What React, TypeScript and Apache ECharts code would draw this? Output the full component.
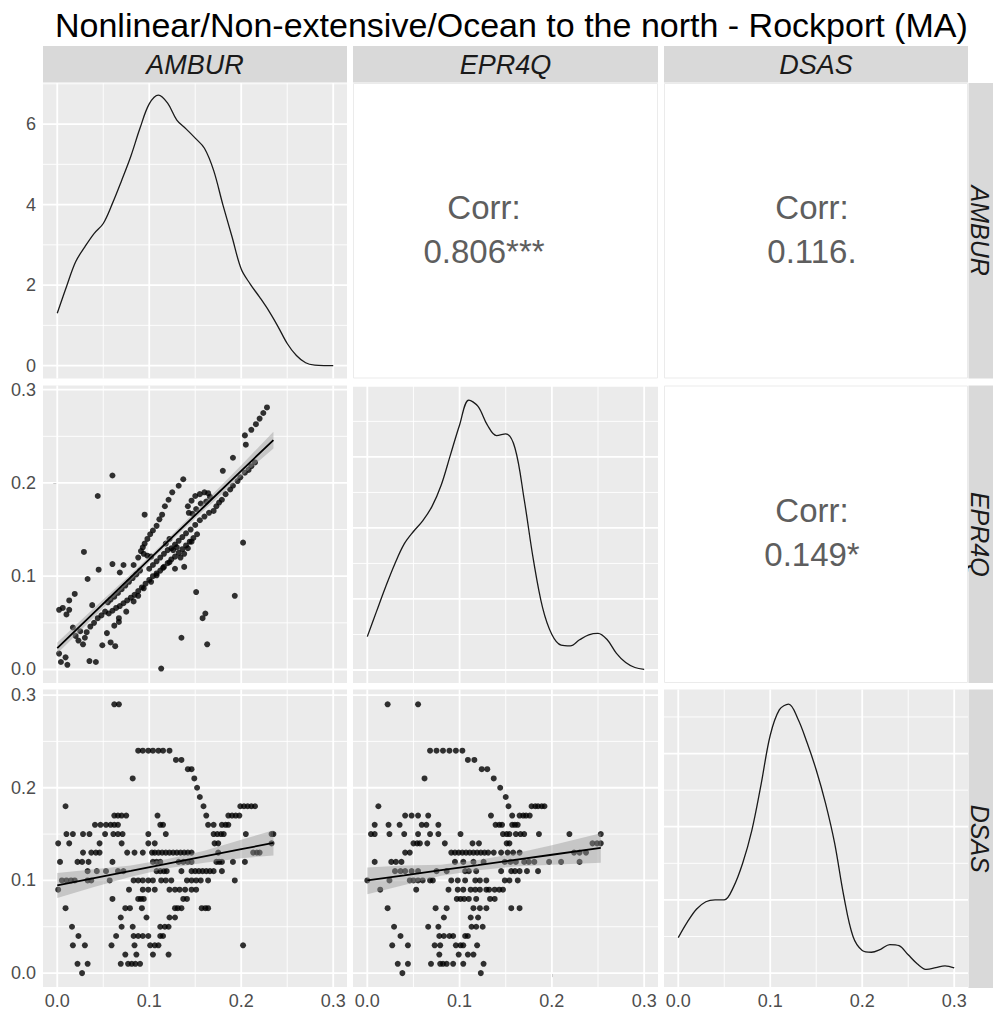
import React, { useEffect, useRef } from "react";
import * as echarts from "echarts";

// ---------------- data ----------------
const varNames = ["AMBUR", "EPR4Q", "DSAS"];
const titleText = "Nonlinear/Non-extensive/Ocean to the north - Rockport (MA)";
const corrAmburEpr4q = "0.806***";
const corrAmburDsas = "0.116.";
const corrEpr4qDsas = "0.149*";

const xTickValues = [0, 0.1, 0.2, 0.3];
const xMinorValues = [0.05, 0.15, 0.25];
const yTickValues = [0, 0.1, 0.2, 0.3];
const yMinorValues = [0.05, 0.15, 0.25];
const densTickValues = [0, 2, 4, 6];
const densMinorValues = [1, 3, 5, 7];
const densTickValuesEpr = [0, 2, 4, 6, 8];

const densityX = [0, 0.01, 0.02, 0.03, 0.04, 0.05, 0.06, 0.07, 0.08, 0.09, 0.1, 0.11, 0.12, 0.13, 0.14, 0.15, 0.16, 0.17, 0.18, 0.19, 0.2, 0.21, 0.22, 0.23, 0.24, 0.25, 0.26, 0.27, 0.28, 0.29, 0.3];
const amburDensity = [1.3, 1.96, 2.58, 2.95, 3.28, 3.53, 4.03, 4.6, 5.2, 5.9, 6.5, 6.72, 6.52, 6.1, 5.88, 5.65, 5.4, 4.85, 4.0, 3.2, 2.4, 2.02, 1.7, 1.36, 0.97, 0.55, 0.25, 0.07, 0.01, 0.0, 0.0];
const epr4qDensity = [0.94, 1.65, 2.35, 3.0, 3.55, 3.9, 4.2, 4.6, 5.2, 6.05, 6.9, 7.6, 7.42, 6.9, 6.6, 6.65, 6.25, 4.8, 3.1, 1.75, 1.0, 0.7, 0.68, 0.85, 0.99, 1.03, 0.85, 0.47, 0.21, 0.07, 0.02];
const dsasDensity = [0.97, 1.4, 1.75, 1.95, 2.0, 2.0, 2.35, 3.0, 3.9, 5.15, 6.5, 7.2, 7.35, 6.95, 6.3, 5.55, 4.65, 3.55, 2.1, 1.0, 0.62, 0.57, 0.65, 0.78, 0.75, 0.5, 0.25, 0.1, 0.15, 0.2, 0.14];

const amburEpr4qPoints = [
  [0.002, 0.064], [0.006, 0.066], [0.010, 0.059], [0.013, 0.064], [0.013, 0.074], [0.019, 0.081],
  [0.002, 0.017], [0.004, 0.008], [0.009, 0.013], [0.011, 0.005],
  [0.017, 0.045], [0.020, 0.036], [0.023, 0.031], [0.025, 0.041], [0.028, 0.027], [0.030, 0.034], [0.032, 0.040],
  [0.029, 0.126], [0.033, 0.097], [0.038, 0.069], [0.035, 0.009], [0.042, 0.008],
  [0.045, 0.107], [0.044, 0.186], [0.049, 0.026],
  [0.036, 0.046], [0.040, 0.050], [0.044, 0.055], [0.048, 0.058], [0.052, 0.062],
  [0.055, 0.072], [0.058, 0.075], [0.062, 0.078], [0.066, 0.082], [0.070, 0.086], [0.074, 0.090], [0.078, 0.094], [0.082, 0.098], [0.086, 0.102], [0.090, 0.106],
  [0.056, 0.060], [0.060, 0.063], [0.064, 0.066], [0.068, 0.068], [0.072, 0.071], [0.076, 0.074], [0.080, 0.077], [0.084, 0.080], [0.088, 0.084], [0.092, 0.088], [0.096, 0.092], [0.100, 0.096], [0.104, 0.100], [0.108, 0.103], [0.112, 0.106], [0.116, 0.110], [0.120, 0.114], [0.124, 0.118], [0.128, 0.121], [0.132, 0.125], [0.136, 0.129], [0.140, 0.133], [0.144, 0.137], [0.148, 0.141], [0.152, 0.145],
  [0.054, 0.039], [0.058, 0.029], [0.063, 0.025], [0.062, 0.047], [0.067, 0.051], [0.067, 0.055], [0.075, 0.062],
  [0.060, 0.208], [0.060, 0.113], [0.068, 0.104], [0.072, 0.112], [0.083, 0.112], [0.088, 0.120],
  [0.095, 0.166], [0.113, 0.001], [0.135, 0.034], [0.151, 0.083], [0.158, 0.055], [0.161, 0.060], [0.163, 0.027], [0.193, 0.079], [0.202, 0.136], [0.191, 0.227], [0.180, 0.213],
  [0.205, 0.241], [0.204, 0.251], [0.211, 0.257], [0.216, 0.263], [0.220, 0.269], [0.224, 0.275], [0.228, 0.281],
  [0.137, 0.204], [0.132, 0.197], [0.125, 0.190], [0.121, 0.182], [0.117, 0.175], [0.114, 0.166], [0.111, 0.161], [0.108, 0.154],
  [0.104, 0.149], [0.101, 0.145], [0.098, 0.140], [0.095, 0.135], [0.093, 0.131], [0.091, 0.127], [0.094, 0.124], [0.098, 0.122], [0.102, 0.121],
  [0.142, 0.175], [0.143, 0.168], [0.146, 0.181], [0.150, 0.186], [0.155, 0.188], [0.160, 0.190], [0.164, 0.189], [0.166, 0.185], [0.162, 0.180], [0.156, 0.178], [0.151, 0.172], [0.147, 0.167],
  [0.170, 0.170], [0.173, 0.175], [0.176, 0.179], [0.179, 0.182], [0.183, 0.188], [0.188, 0.193], [0.191, 0.197], [0.196, 0.202], [0.199, 0.206], [0.204, 0.211], [0.208, 0.214], [0.211, 0.218], [0.215, 0.222],
  [0.100, 0.108], [0.104, 0.112], [0.108, 0.116], [0.112, 0.120], [0.116, 0.124], [0.120, 0.128], [0.124, 0.130], [0.128, 0.134], [0.132, 0.138], [0.136, 0.142], [0.140, 0.146], [0.145, 0.150], [0.150, 0.155], [0.155, 0.160], [0.160, 0.164], [0.165, 0.168],
  [0.118, 0.135], [0.122, 0.140], [0.126, 0.128], [0.130, 0.131], [0.134, 0.120], [0.138, 0.124], [0.142, 0.130], [0.146, 0.137], [0.128, 0.108], [0.138, 0.110],
  [0.083, 0.073], [0.088, 0.079], [0.094, 0.087], [0.102, 0.094], [0.108, 0.101], [0.115, 0.109], [0.122, 0.115],
];

const amburDsasPoints = [
  [0.062, 0.29], [0.067, 0.29],
  [0.088, 0.24], [0.093, 0.24], [0.099, 0.24], [0.104, 0.24], [0.110, 0.24], [0.115, 0.24], [0.122, 0.24],
  [0.129, 0.23], [0.135, 0.23],
  [0.142, 0.22], [0.146, 0.22],
  [0.082, 0.21], [0.149, 0.21],
  [0.152, 0.20],
  [0.155, 0.19],
  [0.009, 0.18], [0.159, 0.18], [0.199, 0.18], [0.203, 0.18], [0.207, 0.18], [0.211, 0.18], [0.215, 0.18],
  [0.062, 0.17], [0.066, 0.17], [0.070, 0.17], [0.075, 0.17], [0.109, 0.17], [0.162, 0.17], [0.186, 0.17], [0.190, 0.17], [0.194, 0.17], [0.198, 0.17],
  [0.041, 0.16], [0.047, 0.16], [0.053, 0.16], [0.058, 0.16], [0.062, 0.16], [0.066, 0.16], [0.112, 0.16], [0.115, 0.16], [0.164, 0.16], [0.170, 0.16], [0.179, 0.16], [0.183, 0.16], [0.186, 0.16],
  [0.010, 0.15], [0.017, 0.15], [0.028, 0.15], [0.035, 0.15], [0.052, 0.15], [0.061, 0.15], [0.066, 0.15], [0.071, 0.15], [0.099, 0.15], [0.118, 0.15], [0.170, 0.15], [0.174, 0.15], [0.178, 0.15], [0.181, 0.15], [0.205, 0.15], [0.233, 0.15], [0.235, 0.15],
  [0.001, 0.14], [0.013, 0.14], [0.046, 0.14], [0.070, 0.14], [0.099, 0.14], [0.106, 0.14], [0.171, 0.14], [0.175, 0.14], [0.233, 0.14],
  [0.028, 0.13], [0.037, 0.13], [0.042, 0.13], [0.046, 0.13], [0.076, 0.13], [0.084, 0.13], [0.093, 0.13], [0.103, 0.13], [0.106, 0.13], [0.110, 0.13], [0.114, 0.13], [0.118, 0.13], [0.122, 0.13], [0.126, 0.13], [0.130, 0.13], [0.134, 0.13], [0.138, 0.13], [0.142, 0.13], [0.146, 0.13], [0.175, 0.13], [0.213, 0.13], [0.217, 0.13], [0.220, 0.13],
  [0.003, 0.12], [0.022, 0.12], [0.027, 0.12], [0.034, 0.12], [0.060, 0.12], [0.104, 0.12], [0.108, 0.12], [0.112, 0.12], [0.132, 0.12], [0.137, 0.12], [0.142, 0.12], [0.146, 0.12], [0.173, 0.12], [0.176, 0.12], [0.179, 0.12], [0.191, 0.12], [0.204, 0.12],
  [0.033, 0.11], [0.043, 0.11], [0.053, 0.11], [0.066, 0.11], [0.072, 0.11], [0.108, 0.11], [0.112, 0.11], [0.116, 0.11], [0.119, 0.11], [0.135, 0.11], [0.146, 0.11], [0.150, 0.11], [0.154, 0.11], [0.158, 0.11], [0.162, 0.11], [0.166, 0.11], [0.170, 0.11], [0.179, 0.11],
  [0.005, 0.10], [0.010, 0.10], [0.015, 0.10], [0.019, 0.10], [0.033, 0.10], [0.037, 0.10], [0.057, 0.10], [0.083, 0.10], [0.088, 0.10], [0.093, 0.10], [0.099, 0.10], [0.104, 0.10], [0.113, 0.10], [0.118, 0.10], [0.124, 0.10], [0.141, 0.10], [0.146, 0.10], [0.151, 0.10], [0.156, 0.10], [0.164, 0.10], [0.193, 0.10],
  [0.001, 0.09], [0.078, 0.09], [0.093, 0.09], [0.099, 0.09], [0.106, 0.09], [0.122, 0.09], [0.128, 0.09], [0.133, 0.09], [0.139, 0.09], [0.146, 0.09], [0.151, 0.09],
  [0.060, 0.08], [0.088, 0.08], [0.091, 0.08], [0.094, 0.08], [0.137, 0.08], [0.141, 0.08],
  [0.009, 0.07], [0.074, 0.07], [0.079, 0.07], [0.092, 0.07], [0.128, 0.07], [0.131, 0.07], [0.135, 0.07], [0.157, 0.07], [0.161, 0.07], [0.164, 0.07],
  [0.069, 0.06], [0.097, 0.06], [0.122, 0.06], [0.128, 0.06],
  [0.016, 0.05], [0.070, 0.05], [0.082, 0.05], [0.112, 0.05], [0.117, 0.05], [0.121, 0.05],
  [0.023, 0.04], [0.064, 0.04], [0.083, 0.04], [0.088, 0.04], [0.093, 0.04], [0.099, 0.04], [0.112, 0.04], [0.115, 0.04],
  [0.017, 0.03], [0.030, 0.03], [0.059, 0.03], [0.084, 0.03], [0.101, 0.03], [0.106, 0.03], [0.110, 0.03], [0.202, 0.03],
  [0.074, 0.02], [0.086, 0.02], [0.104, 0.02], [0.121, 0.02],
  [0.022, 0.01], [0.033, 0.01], [0.069, 0.01], [0.077, 0.01], [0.081, 0.01], [0.085, 0.01], [0.090, 0.01],
  [0.027, 0.00],
];

const epr4qDsasPoints = [
  [0.022, 0.29], [0.055, 0.29],
  [0.068, 0.24], [0.075, 0.24], [0.082, 0.24], [0.089, 0.24], [0.096, 0.24], [0.103, 0.24],
  [0.109, 0.23], [0.116, 0.23],
  [0.124, 0.22], [0.130, 0.22],
  [0.062, 0.21], [0.137, 0.21],
  [0.144, 0.20],
  [0.150, 0.19],
  [0.012, 0.18], [0.153, 0.18], [0.178, 0.18], [0.182, 0.18], [0.185, 0.18], [0.189, 0.18], [0.192, 0.18],
  [0.041, 0.17], [0.048, 0.17], [0.055, 0.17], [0.066, 0.17], [0.134, 0.17], [0.157, 0.17], [0.165, 0.17], [0.169, 0.17], [0.172, 0.17], [0.176, 0.17],
  [0.008, 0.16], [0.023, 0.16], [0.035, 0.16], [0.059, 0.16], [0.064, 0.16], [0.077, 0.16], [0.139, 0.16], [0.143, 0.16], [0.146, 0.16], [0.157, 0.16], [0.160, 0.16], [0.163, 0.16],
  [0.004, 0.15], [0.008, 0.15], [0.024, 0.15], [0.040, 0.15], [0.055, 0.15], [0.068, 0.15], [0.077, 0.15], [0.101, 0.15], [0.147, 0.15], [0.151, 0.15], [0.154, 0.15], [0.161, 0.15], [0.166, 0.15], [0.170, 0.15], [0.186, 0.15], [0.219, 0.15], [0.253, 0.15],
  [0.050, 0.14], [0.054, 0.14], [0.057, 0.14], [0.065, 0.14], [0.084, 0.14], [0.114, 0.14], [0.121, 0.14], [0.151, 0.14], [0.154, 0.14], [0.244, 0.14], [0.249, 0.14], [0.253, 0.14],
  [0.041, 0.13], [0.046, 0.13], [0.091, 0.13], [0.095, 0.13], [0.099, 0.13], [0.103, 0.13], [0.107, 0.13], [0.111, 0.13], [0.115, 0.13], [0.119, 0.13], [0.123, 0.13], [0.127, 0.13], [0.131, 0.13], [0.137, 0.13], [0.145, 0.13], [0.152, 0.13], [0.158, 0.13], [0.165, 0.13], [0.224, 0.13], [0.230, 0.13], [0.237, 0.13],
  [0.008, 0.12], [0.026, 0.12], [0.031, 0.12], [0.037, 0.12], [0.095, 0.12], [0.104, 0.12], [0.115, 0.12], [0.126, 0.12], [0.149, 0.12], [0.155, 0.12], [0.161, 0.12], [0.170, 0.12], [0.175, 0.12], [0.181, 0.12], [0.197, 0.12], [0.210, 0.12], [0.230, 0.12],
  [0.030, 0.11], [0.036, 0.11], [0.041, 0.11], [0.048, 0.11], [0.055, 0.11], [0.075, 0.11], [0.086, 0.11], [0.106, 0.11], [0.110, 0.11], [0.118, 0.11], [0.145, 0.11], [0.156, 0.11], [0.160, 0.11], [0.165, 0.11], [0.173, 0.11], [0.185, 0.11],
  [0.000, 0.10], [0.024, 0.10], [0.046, 0.10], [0.050, 0.10], [0.055, 0.10], [0.060, 0.10], [0.068, 0.10], [0.071, 0.10], [0.091, 0.10], [0.098, 0.10], [0.106, 0.10], [0.117, 0.10], [0.122, 0.10], [0.129, 0.10], [0.149, 0.10], [0.154, 0.10], [0.163, 0.10],
  [0.014, 0.09], [0.053, 0.09], [0.088, 0.09], [0.098, 0.09], [0.104, 0.09], [0.112, 0.09], [0.117, 0.09], [0.122, 0.09], [0.129, 0.09], [0.132, 0.09], [0.138, 0.09], [0.143, 0.09], [0.147, 0.09],
  [0.097, 0.08], [0.101, 0.08], [0.105, 0.08], [0.110, 0.08], [0.118, 0.08], [0.133, 0.08], [0.138, 0.08],
  [0.022, 0.07], [0.074, 0.07], [0.086, 0.07], [0.115, 0.07], [0.122, 0.07], [0.129, 0.07], [0.156, 0.07], [0.165, 0.07],
  [0.083, 0.06], [0.112, 0.06], [0.120, 0.06],
  [0.029, 0.05], [0.066, 0.05], [0.077, 0.05], [0.113, 0.05], [0.118, 0.05], [0.125, 0.05],
  [0.036, 0.04], [0.078, 0.04], [0.083, 0.04], [0.089, 0.04], [0.093, 0.04], [0.106, 0.04], [0.109, 0.04],
  [0.027, 0.03], [0.044, 0.03], [0.073, 0.03], [0.079, 0.03], [0.096, 0.03], [0.101, 0.03], [0.104, 0.03], [0.119, 0.03],
  [0.078, 0.02], [0.099, 0.02], [0.109, 0.02], [0.115, 0.02],
  [0.033, 0.01], [0.044, 0.01], [0.069, 0.01], [0.079, 0.01], [0.082, 0.01], [0.086, 0.01], [0.093, 0.01], [0.104, 0.01], [0.126, 0.01],
  [0.038, 0.00], [0.123, 0.00],
];

// linear fits with confidence bands
const fitAEx = [0, 0.04, 0.08, 0.12, 0.16, 0.2, 0.235];
const fitAEy = [0.023, 0.061, 0.099, 0.137, 0.175, 0.213, 0.246];
const fitAElo = [0.017, 0.056, 0.0955, 0.134, 0.171, 0.207, 0.237];
const fitAEhi = [0.029, 0.066, 0.1025, 0.14, 0.179, 0.219, 0.255];

const fitADx = [0, 0.04, 0.08, 0.12, 0.16, 0.2, 0.235];
const fitADy = [0.0946, 0.1024, 0.1102, 0.1181, 0.1259, 0.1337, 0.1405];
const fitADlo = [0.081, 0.093, 0.104, 0.113, 0.119, 0.124, 0.127];
const fitADhi = [0.108, 0.112, 0.116, 0.123, 0.132, 0.144, 0.154];

const fitEDx = [0, 0.04, 0.08, 0.12, 0.16, 0.2, 0.253];
const fitEDy = [0.1, 0.1055, 0.1111, 0.1166, 0.1222, 0.1277, 0.1351];
const fitEDlo = [0.085, 0.095, 0.105, 0.111, 0.115, 0.117, 0.119];
const fitEDhi = [0.114, 0.116, 0.117, 0.122, 0.129, 0.138, 0.151];

// ---------------- layout ----------------
const FONT = "'Liberation Sans', Arial, Helvetica, sans-serif";
const COLS = [
  { left: 43, width: 304 },
  { left: 353, width: 305 },
  { left: 664, width: 304 },
];
const ROWS = [
  { top: 83, height: 295.5 },
  { top: 385.5, height: 297.5 },
  { top: 689.5, height: 298.5 },
];
const X_MIN = -0.0155;
const X_MAX = 0.315;

type Panel = {
  row: number; col: number; yMin: number; yMax: number;
  yMajor: number[]; yMinor: number[];
  yLabels: number[] | null; yFmt: (v: number) => string;
  xLabels: boolean;
};

const fmt1 = (v: number) => v.toFixed(1);
const fmt0 = (v: number) => String(Math.round(v));

const PANELS: Panel[] = [
  { row: 0, col: 0, yMin: -0.32, yMax: 7.02, yMajor: densTickValues, yMinor: densMinorValues, yLabels: densTickValues, yFmt: fmt0, xLabels: false },
  { row: 1, col: 0, yMin: -0.0145, yMax: 0.3045, yMajor: yTickValues, yMinor: yMinorValues, yLabels: yTickValues, yFmt: fmt1, xLabels: false },
  { row: 2, col: 0, yMin: -0.015, yMax: 0.306, yMajor: yTickValues, yMinor: yMinorValues, yLabels: yTickValues, yFmt: fmt1, xLabels: true },
  { row: 1, col: 1, yMin: -0.366, yMax: 8.01, yMajor: densTickValuesEpr, yMinor: densMinorValues, yLabels: null, yFmt: fmt0, xLabels: false },
  { row: 2, col: 1, yMin: -0.015, yMax: 0.306, yMajor: yTickValues, yMinor: yMinorValues, yLabels: null, yFmt: fmt1, xLabels: true },
  { row: 2, col: 2, yMin: -0.38, yMax: 7.75, yMajor: densTickValues, yMinor: densMinorValues, yLabels: null, yFmt: fmt0, xLabels: true },
];

function gridLineSeries(gi: number, p: Panel) {
  const data: number[][] = [];
  xTickValues.forEach((v) => data.push([v, 0, 1]));
  xMinorValues.forEach((v) => data.push([v, 0, 0]));
  p.yMajor.forEach((v) => data.push([v, 1, 1]));
  p.yMinor.forEach((v) => data.push([v, 1, 0]));
  return {
    type: "custom",
    xAxisIndex: gi,
    yAxisIndex: gi,
    z: 1,
    silent: true,
    data,
    renderItem: (params: any, api: any) => {
      const v = api.value(0);
      const o = api.value(1);
      const m = api.value(2);
      const cs = params.coordSys;
      const style = { stroke: "#FFFFFF", lineWidth: m ? 1.8 : 0.9 };
      if (o === 0) {
        const x = api.coord([v, p.yMin])[0];
        return { type: "line", shape: { x1: x, y1: cs.y, x2: x, y2: cs.y + cs.height }, style };
      }
      const y = api.coord([0, v])[1];
      return { type: "line", shape: { x1: cs.x, y1: y, x2: cs.x + cs.width, y2: y }, style };
    },
  };
}

function bandSeries(gi: number, xs: number[], lo: number[], hi: number[]) {
  return {
    type: "custom",
    xAxisIndex: gi,
    yAxisIndex: gi,
    z: 4,
    silent: true,
    data: xs.map((x, i) => [x, lo[i], hi[i]]),
    renderItem: (params: any, api: any) => {
      if (params.dataIndex !== 0) return null;
      const pts: number[][] = [];
      for (let i = 0; i < xs.length; i++) pts.push(api.coord([xs[i], hi[i]]));
      for (let i = xs.length - 1; i >= 0; i--) pts.push(api.coord([xs[i], lo[i]]));
      return { type: "polygon", shape: { points: pts }, style: { fill: "rgba(153,153,153,0.45)" } };
    },
  };
}

function fitSeries(gi: number, xs: number[], ys: number[]) {
  return {
    type: "line",
    xAxisIndex: gi,
    yAxisIndex: gi,
    z: 5,
    silent: true,
    symbol: "none",
    data: xs.map((x, i) => [x, ys[i]]),
    lineStyle: { color: "#000000", width: 1.8 },
  };
}

function scatterSeries(gi: number, pts: number[][]) {
  return {
    type: "scatter",
    xAxisIndex: gi,
    yAxisIndex: gi,
    z: 3,
    silent: true,
    symbolSize: 6,
    data: pts,
    itemStyle: { color: "#000000" },
  };
}

function densitySeries(gi: number, ys: number[]) {
  return {
    type: "line",
    xAxisIndex: gi,
    yAxisIndex: gi,
    z: 3,
    silent: true,
    symbol: "none",
    smooth: 0.35,
    data: densityX.map((x, i) => [x, ys[i]]),
    lineStyle: { color: "#1A1A1A", width: 1.3 },
  };
}

function buildOption() {
  const grid = PANELS.map((p) => ({
    left: COLS[p.col].left,
    top: ROWS[p.row].top,
    width: COLS[p.col].width,
    height: ROWS[p.row].height,
    show: true,
    backgroundColor: "#EBEBEB",
    borderWidth: 0,
    containLabel: false,
  }));

  const labelStyle = { color: "#4D4D4D", fontSize: 18, fontFamily: FONT };
  const tickStyle = { length: 4, lineStyle: { color: "#333333", width: 1 } };

  const xAxis = PANELS.map((p, i) => ({
    type: "value",
    gridIndex: i,
    min: X_MIN,
    max: X_MAX,
    axisLine: { show: false },
    splitLine: { show: false },
    minorSplitLine: { show: false },
    axisTick: p.xLabels ? { show: true, customValues: xTickValues, ...tickStyle } : { show: false },
    axisLabel: p.xLabels
      ? { show: true, customValues: xTickValues, formatter: fmt1, margin: 5, ...labelStyle }
      : { show: false },
  }));

  const yAxis = PANELS.map((p, i) => ({
    type: "value",
    gridIndex: i,
    min: p.yMin,
    max: p.yMax,
    axisLine: { show: false },
    splitLine: { show: false },
    minorSplitLine: { show: false },
    axisTick: p.yLabels ? { show: true, customValues: p.yLabels, ...tickStyle } : { show: false },
    axisLabel: p.yLabels
      ? { show: true, customValues: p.yLabels, formatter: p.yFmt, margin: 7, ...labelStyle }
      : { show: false },
  }));

  const series: any[] = [];
  PANELS.forEach((p, i) => series.push(gridLineSeries(i, p)));
  series.push(densitySeries(0, amburDensity));
  series.push(scatterSeries(1, amburEpr4qPoints));
  series.push(bandSeries(1, fitAEx, fitAElo, fitAEhi));
  series.push(fitSeries(1, fitAEx, fitAEy));
  series.push(scatterSeries(2, amburDsasPoints));
  series.push(bandSeries(2, fitADx, fitADlo, fitADhi));
  series.push(fitSeries(2, fitADx, fitADy));
  series.push(densitySeries(3, epr4qDensity));
  series.push(scatterSeries(4, epr4qDsasPoints));
  series.push(bandSeries(4, fitEDx, fitEDlo, fitEDhi));
  series.push(fitSeries(4, fitEDx, fitEDy));
  series.push(densitySeries(5, dsasDensity));

  const textStyle = (extra: any) => ({
    fontFamily: FONT,
    align: "center",
    verticalAlign: "middle",
    textAlign: "center",
    textVerticalAlign: "middle",
    ...extra,
  });

  const graphic: any[] = [];
  graphic.push({
    type: "text",
    x: 55,
    y: 24.5,
    silent: true,
    style: {
      text: titleText,
      fontFamily: FONT,
      fontSize: 34,
      fill: "#000000",
      align: "left",
      textAlign: "left",
      verticalAlign: "middle",
      textVerticalAlign: "middle",
    },
  });

  // top strips
  COLS.forEach((c, i) => {
    graphic.push({
      type: "rect",
      silent: true,
      shape: { x: c.left, y: 46, width: c.width, height: 36.5 },
      style: { fill: "#D9D9D9" },
    });
    graphic.push({
      type: "text",
      silent: true,
      x: c.left + c.width / 2,
      y: 64.5,
      style: textStyle({ text: varNames[i], fontSize: 27, fontStyle: "italic", fill: "#1A1A1A" }),
    });
  });

  // right strips (kept inside the page edge)
  ROWS.forEach((r, i) => {
    graphic.push({
      type: "rect",
      silent: true,
      shape: { x: 968.5, y: r.top, width: 40, height: r.height },
      style: { fill: "#D9D9D9" },
    });
    graphic.push({
      type: "text",
      silent: true,
      x: 980,
      y: r.top + r.height / 2,
      rotation: -Math.PI / 2,
      style: textStyle({ text: varNames[i], fontSize: 25, fontStyle: "italic", fill: "#1A1A1A" }),
    });
  });

  // correlation panels
  const corrPanels = [
    { row: 0, col: 1, cx: 484, text: corrAmburEpr4q },
    { row: 0, col: 2, cx: 812, text: corrAmburDsas },
    { row: 1, col: 2, cx: 812, text: corrEpr4qDsas },
  ];
  corrPanels.forEach((cp) => {
    const c = COLS[cp.col];
    const r = ROWS[cp.row];
    graphic.push({
      type: "rect",
      silent: true,
      shape: { x: c.left + 0.5, y: r.top + 0.5, width: c.width - 1, height: r.height - 1 },
      style: { fill: "#FFFFFF", stroke: "#EBEBEB", lineWidth: 1 },
    });
    const cy = r.top + r.height / 2 - 1.5;
    graphic.push({
      type: "text",
      silent: true,
      x: cp.cx,
      y: cy - 22,
      style: textStyle({ text: "Corr:", fontSize: 33, fill: "#5E5E5E" }),
    });
    graphic.push({
      type: "text",
      silent: true,
      x: cp.cx,
      y: cy + 22,
      style: textStyle({ text: cp.text, fontSize: 33, fill: "#5E5E5E" }),
    });
  });

  return {
    animation: false,
    backgroundColor: "#FFFFFF",
    textStyle: { fontFamily: FONT },
    grid,
    xAxis,
    yAxis,
    series,
    graphic,
  };
}

export default function App() {
  const ref = useRef<HTMLDivElement>(null);
  useEffect(() => {
    if (!ref.current) return;
    const chart = echarts.init(ref.current, null, { renderer: "svg" });
    chart.setOption(buildOption() as any);
    return () => {
      chart.dispose();
    };
  }, []);
  return (
    <div
      ref={ref}
      style={{ position: "absolute", left: 0, top: 0, width: 993, height: 1010, background: "#FFFFFF" }}
    />
  );
}
